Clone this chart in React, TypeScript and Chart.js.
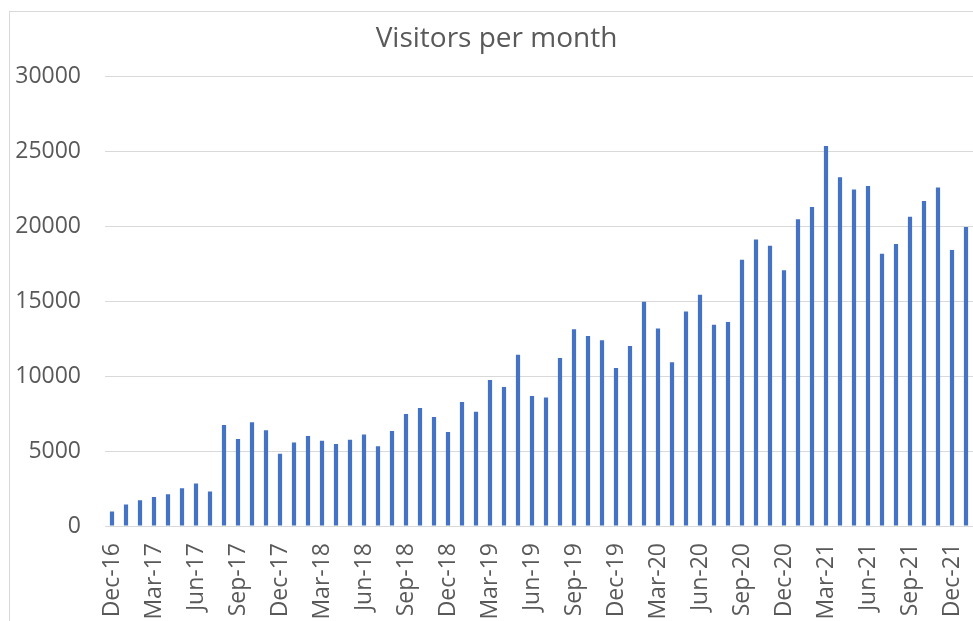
import React, { useEffect, useRef } from "react";
import { Chart, registerables } from "chart.js";

Chart.register(...registerables);

const chartTitle = "Visitors per month";

const categories = [
  "Dec-16",
  "Jan-17", "Feb-17", "Mar-17", "Apr-17", "May-17", "Jun-17", "Jul-17", "Aug-17", "Sep-17", "Oct-17", "Nov-17", "Dec-17",
  "Jan-18", "Feb-18", "Mar-18", "Apr-18", "May-18", "Jun-18", "Jul-18", "Aug-18", "Sep-18", "Oct-18", "Nov-18", "Dec-18",
  "Jan-19", "Feb-19", "Mar-19", "Apr-19", "May-19", "Jun-19", "Jul-19", "Aug-19", "Sep-19", "Oct-19", "Nov-19", "Dec-19",
  "Jan-20", "Feb-20", "Mar-20", "Apr-20", "May-20", "Jun-20", "Jul-20", "Aug-20", "Sep-20", "Oct-20", "Nov-20", "Dec-20",
  "Jan-21", "Feb-21", "Mar-21", "Apr-21", "May-21", "Jun-21", "Jul-21", "Aug-21", "Sep-21", "Oct-21", "Nov-21", "Dec-21",
  "Jan-22",
];

const visitors2016 = [960];
const visitors2017 = [1430, 1720, 1940, 2120, 2520, 2840, 2300, 6740, 5800, 6920, 6400, 4820];
const visitors2018 = [5580, 6000, 5690, 5470, 5750, 6110, 5330, 6340, 7470, 7870, 7270, 6270];
const visitors2019 = [8280, 7630, 9750, 9280, 11440, 8680, 8570, 11220, 13140, 12690, 12400, 10550];
const visitors2020 = [12020, 14970, 13180, 10930, 14320, 15430, 13430, 13610, 17780, 19130, 18710, 17080];
const visitors2021 = [20470, 21300, 25360, 23280, 22460, 22700, 18180, 18820, 20650, 21700, 22590, 18420];
const visitors2022 = [19960];

const visitors = [
  ...visitors2016,
  ...visitors2017,
  ...visitors2018,
  ...visitors2019,
  ...visitors2020,
  ...visitors2021,
  ...visitors2022,
];

const yMin = 0;
const yMax = 30000;
const yStep = 5000;
const labelEvery = 3;

const TEXT = "#595959";
const GRID = "#D9D9D9";
const BAR = "#4472C4";
const FONT = "'Open Sans', sans-serif";

export default function App() {
  const ref = useRef<HTMLCanvasElement | null>(null);

  useEffect(() => {
    if (!ref.current) return;
    const frame = {
      id: "frame",
      afterLayout(chart: any) {
        // centre the title over the whole chart frame (which extends past the right edge)
        const t = chart.titleBlock;
        if (t) {
          t.left += 10;
          t.right += 10;
        }
      },
      beforeDraw(chart: any) {
        const c = chart.ctx;
        c.save();
        c.strokeStyle = GRID;
        c.lineWidth = 1;
        c.strokeRect(9.5, 11.5, 974, 700);
        c.restore();
      },
    };
    const chart = new Chart(ref.current, {
      type: "bar",
      data: {
        labels: categories,
        datasets: [
          {
            data: visitors,
            backgroundColor: BAR,
            borderWidth: 0,
            categoryPercentage: 1,
            barPercentage: 0.3,
          },
        ],
      },
      options: {
        animation: false,
        responsive: false,
        maintainAspectRatio: false,
        layout: { padding: { left: 0, right: 20, top: 0, bottom: 0 } },
        plugins: {
          legend: { display: false },
          tooltip: { enabled: false },
          title: {
            display: true,
            text: chartTitle,
            color: TEXT,
            font: { family: FONT, size: 28, weight: "normal" },
            padding: { top: 22, bottom: 21 },
          },
        },
        scales: {
          x: {
            grid: { display: false, drawTicks: false },
            border: { display: true, color: GRID, width: 1 },
            ticks: {
              autoSkip: false,
              minRotation: 90,
              maxRotation: 90,
              padding: 17,
              color: TEXT,
              font: { family: FONT, size: 23 },
              callback: (_v: any, i: number) => (i % labelEvery === 0 ? categories[i] : ""),
            },
            afterFit: (s: any) => {
              s.height = 114;
              s.paddingLeft = 0;
              s.paddingRight = 0;
            },
          },
          y: {
            min: yMin,
            max: yMax,
            grid: { color: GRID, drawTicks: false, lineWidth: 1 },
            border: { display: false },
            ticks: {
              stepSize: yStep,
              padding: 24,
              color: TEXT,
              font: { family: FONT, size: 23 },
              callback: (v: any) => String(v),
            },
            afterFit: (s: any) => {
              s.width = 105;
              s.paddingTop = 0;
              s.paddingBottom = 0;
            },
          },
        },
      },
      plugins: [frame],
    } as any);
    return () => chart.destroy();
  }, []);

  return (
    <div
      style={{
        position: "absolute",
        left: 0,
        top: 0,
        width: 973,
        height: 621,
        overflow: "hidden",
        background: "#ffffff",
      }}
    >
      <canvas ref={ref} width={993} height={640} style={{ display: "block", width: 993, height: 640 }} />
    </div>
  );
}
